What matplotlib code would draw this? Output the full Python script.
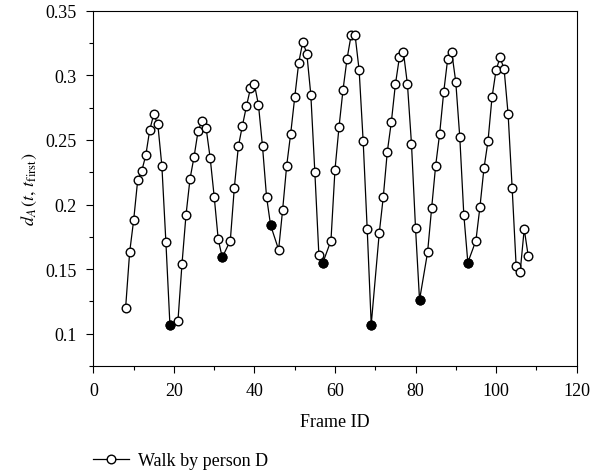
import numpy as np
import matplotlib
matplotlib.use("Agg")
import matplotlib.pyplot as plt
from matplotlib.ticker import MultipleLocator

# frames and values
frames = [8, 9, 10, 11, 12, 13, 14, 15, 16, 17, 18, 19,
          21, 22, 23, 24, 25, 26, 27, 28, 29, 30, 31, 32,
          34, 35, 36, 37, 38, 39, 40, 41, 42, 43, 44,
          46, 47, 48, 49, 50, 51, 52, 53, 54, 55, 56, 57,
          59, 60, 61, 62, 63, 64, 65, 66, 67, 68, 69,
          71, 72, 73, 74, 75, 76, 77, 78, 79, 80, 81,
          83, 84, 85, 86, 87, 88, 89, 90, 91, 92, 93,
          95, 96, 97, 98, 99, 100, 101, 102, 103, 104, 105, 106, 107, 108]
values = [0.120, 0.163, 0.188, 0.219, 0.226, 0.238, 0.258, 0.270, 0.262, 0.230, 0.171, 0.107,
          0.110, 0.154, 0.192, 0.220, 0.237, 0.257, 0.265, 0.259, 0.236, 0.206, 0.173, 0.159,
          0.172, 0.213, 0.245, 0.261, 0.276, 0.290, 0.293, 0.277, 0.245, 0.206, 0.184,
          0.165, 0.196, 0.230, 0.255, 0.283, 0.310, 0.326, 0.317, 0.285, 0.225, 0.161, 0.155,
          0.172, 0.227, 0.260, 0.289, 0.313, 0.331, 0.331, 0.304, 0.249, 0.181, 0.107,
          0.178, 0.206, 0.241, 0.264, 0.293, 0.314, 0.318, 0.293, 0.247, 0.182, 0.126,
          0.163, 0.197, 0.230, 0.255, 0.287, 0.313, 0.318, 0.295, 0.252, 0.192, 0.155,
          0.172, 0.198, 0.228, 0.249, 0.283, 0.304, 0.314, 0.305, 0.270, 0.213, 0.152, 0.148, 0.181, 0.160]
# frames drawn with filled markers
key_frames = [19, 32, 44, 57, 69, 81, 93]
ytick_vals = [0.1, 0.15, 0.2, 0.25, 0.3, 0.35]
ytick_labels = ['0.1', '0.15', '0.2', '0.25', '0.3', '0.35']

plt.rcParams['font.family'] = ['Liberation Serif', 'DejaVu Serif']
plt.rcParams['mathtext.fontset'] = 'stix'
plt.rcParams['font.size'] = 13

fig = plt.figure(figsize=(5.95, 4.77), dpi=100)
ax = fig.add_axes([0.157, 0.231, 0.812, 0.744])

ax.plot(frames, values, '-o', color='black', lw=0.9, ms=6.2,
        mfc='white', mec='black', mew=1.0, label='Walk by person D')
kv = [values[frames.index(f)] for f in key_frames]
ax.plot(key_frames, kv, 'o', color='black', ms=6.2, zorder=3)

ax.set_xlim(0, 120)
ax.set_ylim(0.075, 0.35)
ax.xaxis.set_major_locator(MultipleLocator(20))
ax.xaxis.set_minor_locator(MultipleLocator(10))
ax.yaxis.set_minor_locator(MultipleLocator(0.025))
ax.set_yticks(ytick_vals)
ax.set_yticklabels(ytick_labels)
ax.tick_params(which='both', direction='out', width=0.8)
ax.tick_params(which='major', length=5, pad=7)
ax.tick_params(which='minor', length=3)
for s in ax.spines.values():
    s.set_linewidth(0.8)

ax.set_xlabel('Frame ID')
ax.xaxis.set_label_coords(0.5, -0.133)
ax.set_ylabel(r'$d_A\,(t,\,t_{\mathrm{first}})$')
ax.yaxis.set_label_coords(-0.112, 0.5)

fig.legend(handles=[ax.lines[0]], loc='center left', bbox_to_anchor=(0.156, 0.032),
           frameon=False, borderpad=0, borderaxespad=0,
           handlelength=2.0, handletextpad=0.5, fontsize=13)

fig.savefig('out.png', dpi=100)
